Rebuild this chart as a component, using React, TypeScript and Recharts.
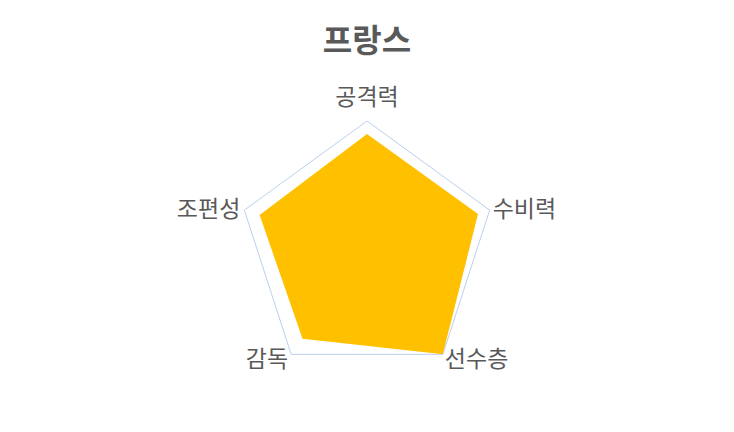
import React from 'react';
import { RadarChart, Radar, PolarGrid, PolarAngleAxis, PolarRadiusAxis } from 'recharts';

const categories = ['공격력', '수비력', '선수층', '감독', '조편성'];
const values = [9.0, 9.05, 10.0, 8.5, 8.75];
const title = '프랑스';

const data = categories.map((c, i) => ({ name: c, value: values[i] }));

const CX = 367;
const CY = 250;
const R = 129;
const FONT = '"Noto Sans CJK KR", "Noto Sans", sans-serif';

const Tick = (props: any) => {
  const { x, y, payload } = props;
  const dx = x - CX;
  const dy = y - CY;
  const len = Math.sqrt(dx * dx + dy * dy) || 1;
  const vx = CX + (dx / len) * R;
  const vy = CY + (dy / len) * R;
  let tx = vx;
  let ty = vy;
  let anchor: 'start' | 'middle' | 'end' = 'middle';
  if (Math.abs(dx) < 1 && dy < 0) {
    ty = vy - 26.5;
  } else if (dy > 50) {
    anchor = dx > 0 ? 'start' : 'end';
    tx = vx + (dx > 0 ? 2 : -3);
    ty = vy + 3;
  } else {
    anchor = dx > 0 ? 'start' : 'end';
    tx = vx + (dx > 0 ? 3 : -4);
    ty = vy - 3.5;
  }
  return (
    <text x={tx} y={ty} textAnchor={anchor} dominantBaseline="central" fill="#595959" fontSize={23} fontFamily={FONT}>
      {payload.value}
    </text>
  );
};

export default function App() {
  return (
    <div style={{ position: 'absolute', left: 0, top: 0, width: 734, height: 432, background: '#fff' }}>
      <svg width={734} height={80} style={{ position: 'absolute', left: 0, top: 0 }}>
        <text x={367} y={37.5} textAnchor="middle" dominantBaseline="central" fill="#595959" fontSize={32} fontWeight="bold" fontFamily={FONT}>
          {title}
        </text>
      </svg>
      <div style={{ position: 'absolute', left: 0, top: 0 }}>
        <RadarChart width={734} height={432} data={data} cx={CX} cy={CY} outerRadius={R} margin={{ top: 0, right: 0, bottom: 0, left: 0 }}>
          <PolarGrid gridType="polygon" radialLines={false} polarRadius={[R]} stroke="#BCD0EA" strokeWidth={1} />
          <PolarAngleAxis dataKey="name" tick={<Tick />} tickLine={false} axisLine={false} />
          <PolarRadiusAxis domain={[0, 10]} tick={false} axisLine={false} tickCount={2} />
          <Radar dataKey="value" fill="#FFC000" fillOpacity={1} stroke="none" isAnimationActive={false} />
        </RadarChart>
      </div>
    </div>
  );
}
